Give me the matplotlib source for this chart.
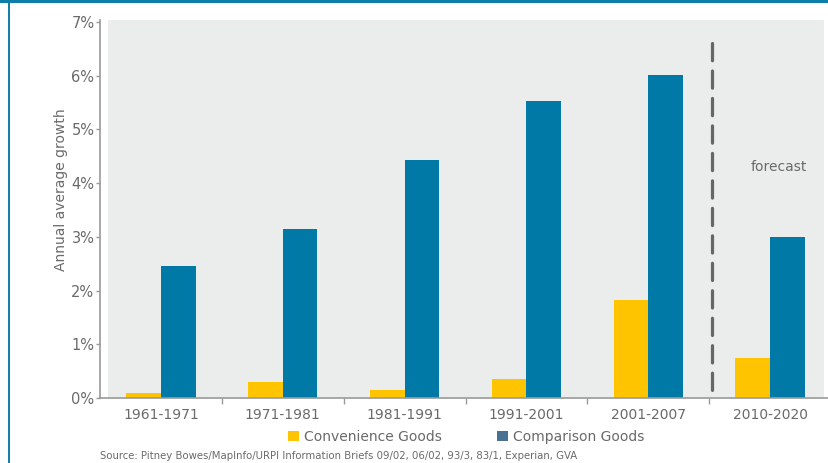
import matplotlib
matplotlib.use("Agg")
import matplotlib.pyplot as plt
from matplotlib.patches import Rectangle, Patch
from matplotlib.lines import Line2D
from matplotlib.ticker import FuncFormatter, FixedLocator
import numpy as np

periods = ["1961-1971", "1971-1981", "1981-1991", "1991-2001", "2001-2007", "2010-2020"]
convenience = [0.09, 0.30, 0.14, 0.35, 1.82, 0.75]
comparison = [2.46, 3.15, 4.43, 5.53, 6.01, 3.00]
series_names = ["Convenience Goods", "Comparison Goods"]
yticks = [0, 1, 2, 3, 4, 5, 6, 7]
source = "Source: Pitney Bowes/MapInfo/URPI Information Briefs 09/02, 06/02, 93/3, 83/1, Experian, GVA"

YELLOW = "#FFC400"
BLUE = "#0079A6"
LEGEND_BLUE = "#4A7191"
PANEL = "#EBECEC"
TEXT = "#6A6A6A"
FRAME = "#0E7DA8"

W, H = 829, 463
fig = plt.figure(figsize=(W / 100, H / 100), dpi=100)
plt.rcParams["font.family"] = ["DejaVu Sans"]

# axes box in pixels: left 100, bottom 398 (from top), top 20, spans 6 groups of ~121.8 px
ax_l, ax_b, ax_w, ax_h = 100, H - 398, 731, 378
ax = fig.add_axes([ax_l / W, ax_b / H, ax_w / W, ax_h / H])
ax.set_facecolor("none")

# grey plotting panel, inset slightly from the y axis
ax.add_patch(Rectangle((8 / ax_w, 0), (724 - 8) / ax_w, 1, transform=ax.transAxes,
                       facecolor=PANEL, edgecolor="none", zorder=0))

x = np.arange(len(periods))
bw = 0.285
ax.bar(x - bw / 2, convenience, bw, color=YELLOW, zorder=2)
ax.bar(x + bw / 2, comparison, bw, color=BLUE, zorder=2)

ax.set_xlim(-0.5, len(periods) - 0.5)
ax.set_ylim(0, 7.037)

# forecast divider between the last historic period and the projection
div = Line2D([4.52, 4.52], [6.61, 0], color="#666666", lw=2.3, zorder=3)
div.set_dashes([5.4, 3.2])
div.set_dash_capstyle("round")
ax.add_line(div)
ax.text(5.07, (398 - 167) / 53.71, "forecast", color=TEXT, fontsize=10,
        ha="center", va="center")

# axes styling
for s in ["top", "right"]:
    ax.spines[s].set_visible(False)
ax.spines["left"].set_color("#9A9A9A")
ax.spines["bottom"].set_color("#9A9A9A")
ax.spines["left"].set_linewidth(1.2)
ax.spines["bottom"].set_linewidth(1.2)

ax.set_yticks(yticks)
ax.yaxis.set_major_formatter(FuncFormatter(lambda v, p: f"{int(v)}%"))
ax.tick_params(axis="y", length=3, width=1, color="#9A9A9A", labelcolor=TEXT,
               labelsize=10.5, pad=1)

ax.set_xticks(x)
ax.set_xticklabels(periods)
ax.xaxis.set_minor_locator(FixedLocator(np.arange(0.5, len(periods) - 0.5, 1)))
ax.tick_params(axis="x", which="major", length=0, labelcolor=TEXT, labelsize=10, pad=7)
ax.tick_params(axis="x", which="minor", length=4, width=1, color="#9A9A9A")

ax.set_ylabel("Annual average growth", color=TEXT, fontsize=10, va="center")
ax.yaxis.set_label_coords((61 - ax_l) / ax_w, (398 - 190) / ax_h)

# legend
handles = [Patch(facecolor=YELLOW, edgecolor="none"),
           Patch(facecolor=LEGEND_BLUE, edgecolor="none")]
fig.legend(handles, series_names, loc="center", bbox_to_anchor=(466 / W, 1 - 437 / H),
           ncol=2, frameon=False, fontsize=10, labelcolor=TEXT,
           handlelength=0.8, handleheight=0.8, handletextpad=0.35,
           columnspacing=4.0, borderaxespad=0)

fig.text(100 / W, 1 - 456 / H, source, color=TEXT, fontsize=7.3, ha="left", va="center")

# frame lines along the top and left edges
fig.add_artist(Line2D([0, 1], [1 - 1.2 / H, 1 - 1.2 / H], color=FRAME, lw=2.2,
                      transform=fig.transFigure))
fig.add_artist(Line2D([8.7 / W, 8.7 / W], [0, 1], color=FRAME, lw=1.4,
                      transform=fig.transFigure))

fig.savefig("out.png", dpi=100)
